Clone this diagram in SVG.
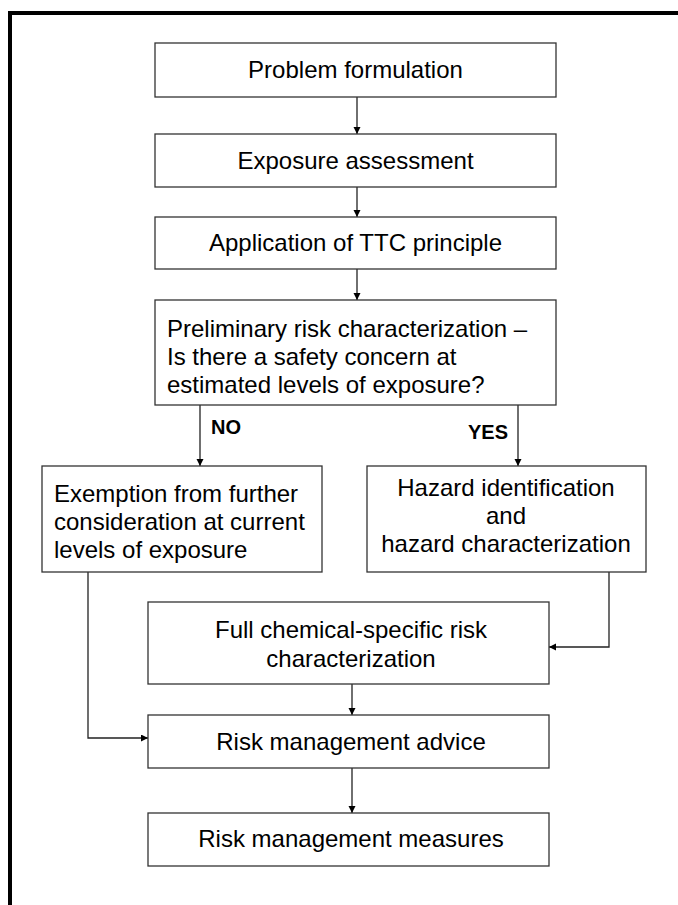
<svg xmlns="http://www.w3.org/2000/svg" width="678" height="905" viewBox="0 0 678 905">
<defs>
<marker id="ah" markerWidth="8" markerHeight="8" refX="7" refY="3.5" orient="auto" markerUnits="userSpaceOnUse">
<path d="M0,0 L7,3.5 L0,7 z" fill="#000"/>
</marker>
<style>
.box{fill:#fff;stroke:#333;stroke-width:1.3}
.t{font-family:"Liberation Sans",Arial,sans-serif;font-size:24px;fill:#000}
.c{text-anchor:middle}
.lbl{font-family:"Liberation Sans",Arial,sans-serif;font-size:20px;font-weight:bold;fill:#000}
.ln{fill:none;stroke:#222;stroke-width:1.3}
.arr{marker-end:url(#ah)}
</style>
</defs>
<rect width="678" height="905" fill="#fff"/>
<g id="frame">
<path d="M10,905 L10,13 L678,13" fill="none" stroke="#000" stroke-width="4"/>
</g>
<g id="connectors">
<line class="ln arr" x1="357" y1="97" x2="357" y2="134"/>
<line class="ln arr" x1="357" y1="187" x2="357" y2="217"/>
<line class="ln arr" x1="357" y1="269" x2="357" y2="300"/>
<line class="ln arr" x1="200" y1="405" x2="200" y2="466"/>
<line class="ln arr" x1="518" y1="405" x2="518" y2="466"/>
<polyline class="ln arr" points="88,572 88,738 148,738"/>
<polyline class="ln arr" points="609,572 609,647 549,647"/>
<line class="ln arr" x1="352" y1="684" x2="352" y2="715"/>
<line class="ln arr" x1="352" y1="768" x2="352" y2="813"/>
<text class="lbl" x="211" y="434">NO</text>
<text class="lbl" x="468" y="439">YES</text>
</g>
<g id="n1"><rect class="box" x="155" y="43" width="401" height="54"/><text class="t c" x="355.5" y="78">Problem formulation</text></g>
<g id="n2"><rect class="box" x="155" y="134" width="401" height="53"/><text class="t c" x="355.5" y="169">Exposure assessment</text></g>
<g id="n3"><rect class="box" x="155" y="217" width="401" height="52"/><text class="t c" x="355.5" y="251">Application of TTC principle</text></g>
<g id="n4"><rect class="box" x="155" y="300" width="401" height="105"/>
<text class="t" x="167" y="337">Preliminary risk characterization –</text>
<text class="t" x="167" y="365">Is there a safety concern at</text>
<text class="t" x="167" y="393">estimated levels of exposure?</text></g>
<g id="n5"><rect class="box" x="42" y="466" width="280" height="106"/>
<text class="t" x="54" y="502">Exemption from further</text>
<text class="t" x="54" y="530">consideration at current</text>
<text class="t" x="54" y="558">levels of exposure</text></g>
<g id="n6"><rect class="box" x="367" y="466" width="279" height="106"/>
<text class="t c" x="506" y="496">Hazard identification</text>
<text class="t c" x="506" y="524">and</text>
<text class="t c" x="506" y="552">hazard characterization</text></g>
<g id="n7"><rect class="box" x="148" y="602" width="401" height="82"/>
<text class="t c" x="351" y="638">Full chemical-specific risk</text>
<text class="t c" x="351" y="667">characterization</text></g>
<g id="n8"><rect class="box" x="148" y="715" width="401" height="53"/><text class="t c" x="351" y="750">Risk management advice</text></g>
<g id="n9"><rect class="box" x="148" y="813" width="401" height="53"/><text class="t c" x="351" y="847">Risk management measures</text></g>
</svg>
